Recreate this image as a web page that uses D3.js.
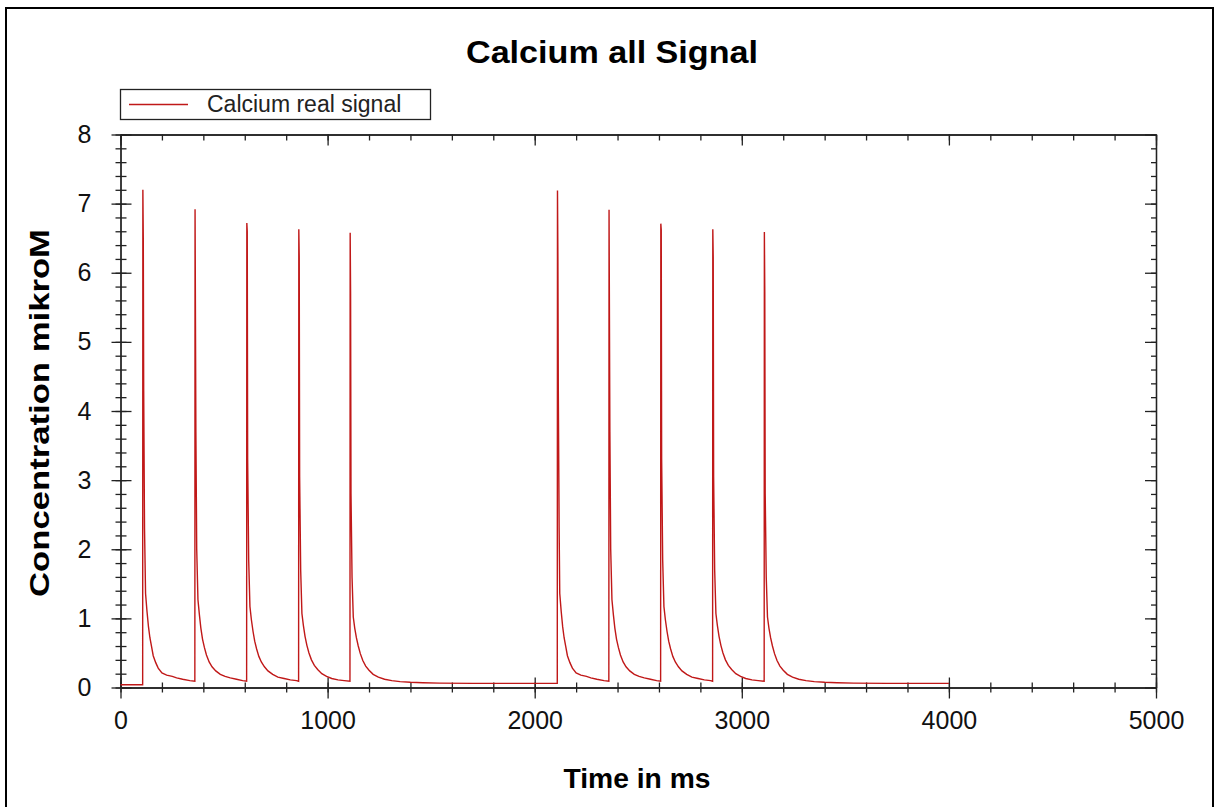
<!DOCTYPE html>
<html>
<head>
<meta charset="utf-8">
<script src="https://cdn.jsdelivr.net/npm/d3@7"></script>
<style>
  body { margin: 0; background: #fff; }
  svg text { font-family: "Liberation Sans", Arial, sans-serif; }
</style>
</head>
<body>
<div id="chart"></div>
<script>
// signal samples (time in ms, concentration in mikroM)
var timeMs = [
  0, 107, 108, 110, 112, 116, 121, 128, 135, 142, 150, 158, 170, 182, 200, 223, 250, 271, 300, 335, 359,
  360, 364, 368, 374, 381, 388, 396, 405, 415, 428, 442, 460, 482, 505, 530, 560, 590, 609,
  610, 612, 614, 619, 625, 632, 640, 648, 657, 668, 680, 695, 712, 735, 760, 790, 820, 850, 860,
  861, 863, 865, 870, 876, 883, 891, 900, 910, 922, 936, 952, 972, 995, 1020, 1050, 1080, 1108,
  1109, 1111, 1113, 1118, 1124, 1131, 1139, 1148, 1158, 1170, 1184, 1200, 1220, 1245, 1275, 1310, 1350, 1400, 1460, 1540, 1700, 2109,
  2110, 2112, 2114, 2118, 2121, 2128, 2135, 2142, 2150, 2158, 2170, 2182, 2200, 2223, 2250, 2271, 2300, 2335, 2358,
  2359, 2363, 2367, 2373, 2380, 2387, 2395, 2404, 2414, 2427, 2441, 2459, 2481, 2504, 2529, 2559, 2589, 2608,
  2609, 2611, 2613, 2618, 2624, 2631, 2639, 2647, 2656, 2667, 2679, 2694, 2711, 2734, 2759, 2789, 2819, 2849, 2859,
  2860, 2862, 2864, 2869, 2875, 2882, 2890, 2899, 2909, 2921, 2935, 2951, 2971, 2994, 3019, 3049, 3079, 3108,
  3109, 3111, 3113, 3118, 3124, 3131, 3139, 3148, 3158, 3170, 3184, 3200, 3220, 3245, 3275, 3310, 3350, 3400, 3460, 3540, 3700, 4000
];
var calcium = [
  0.04, 0.04, 7.2, 6.5, 4.3, 2.3, 1.36, 1.1, 0.88, 0.72, 0.59, 0.46, 0.36, 0.28, 0.21, 0.18, 0.16, 0.14, 0.12, 0.10, 0.09,
  6.92, 3.7, 2.0, 1.27, 1.05, 0.86, 0.7, 0.58, 0.47, 0.37, 0.3, 0.24, 0.19, 0.16, 0.14, 0.12, 0.10, 0.09,
  6.72, 6.6, 3.3, 1.84, 1.17, 0.98, 0.81, 0.67, 0.56, 0.45, 0.37, 0.3, 0.24, 0.19, 0.15, 0.13, 0.11, 0.10, 0.09,
  6.63, 6.22, 3.05, 1.7, 1.07, 0.9, 0.74, 0.61, 0.5, 0.4, 0.32, 0.26, 0.2, 0.16, 0.13, 0.11, 0.10, 0.09,
  6.58, 5.7, 2.8, 1.6, 1.02, 0.86, 0.72, 0.6, 0.49, 0.39, 0.31, 0.25, 0.19, 0.15, 0.12, 0.10, 0.085, 0.075, 0.068, 0.063, 0.06, 0.06,
  7.19, 6.23, 4.3, 2.3, 1.36, 1.1, 0.88, 0.72, 0.59, 0.46, 0.36, 0.28, 0.21, 0.18, 0.16, 0.14, 0.12, 0.10, 0.09,
  6.91, 3.7, 2.0, 1.27, 1.05, 0.86, 0.7, 0.58, 0.47, 0.37, 0.3, 0.24, 0.19, 0.16, 0.14, 0.12, 0.10, 0.09,
  6.71, 6.62, 3.3, 1.84, 1.17, 0.98, 0.81, 0.67, 0.56, 0.45, 0.37, 0.3, 0.24, 0.19, 0.15, 0.13, 0.11, 0.10, 0.09,
  6.63, 6.22, 3.05, 1.7, 1.07, 0.9, 0.74, 0.61, 0.5, 0.4, 0.32, 0.26, 0.2, 0.16, 0.13, 0.11, 0.10, 0.09,
  6.59, 5.73, 2.8, 1.6, 1.02, 0.86, 0.72, 0.6, 0.49, 0.39, 0.31, 0.25, 0.19, 0.15, 0.12, 0.10, 0.085, 0.075, 0.068, 0.063, 0.06, 0.06
];
var xTicks = [0, 1000, 2000, 3000, 4000, 5000];
var yTicks = [0, 1, 2, 3, 4, 5, 6, 7, 8];
var xMinor = d3.range(0, 5001, 200);
var yMinor = d3.range(0, 8.01, 0.2);

var W = 1220, H = 807;
var plot = { left: 120.5, right: 1156, top: 134.5, bottom: 687.5 };

var svg = d3.select("#chart").append("svg")
  .attr("width", W).attr("height", H);

// outer frame
svg.append("rect")
  .attr("x", 6).attr("y", 8).attr("width", 1207).attr("height", 806)
  .attr("fill", "none").attr("stroke", "#000").attr("stroke-width", 2);

var x = d3.scaleLinear().domain([0, 5000]).range([plot.left, plot.right]);
var y = d3.scaleLinear().domain([0, 8]).range([plot.bottom, plot.top]);

// axes: minor and major ticks drawn separately, tick lines stretched so they cross the spine
function styleAxis(g) {
  g.select(".domain").attr("stroke", "#222").attr("stroke-width", 1.3);
  g.selectAll(".tick line").attr("stroke", "#222").attr("stroke-width", 1.3);
  g.selectAll("text").attr("font-size", 25).attr("fill", "#111")
    .attr("font-family", "'Liberation Sans', Arial, sans-serif");
}

// bottom
var gBm = svg.append("g").attr("transform", "translate(0," + plot.bottom + ")")
  .call(d3.axisBottom(x).tickValues(xMinor).tickFormat("").tickSizeOuter(0));
gBm.selectAll(".tick line").attr("y1", -5).attr("y2", 5);
styleAxis(gBm);
var gB = svg.append("g").attr("transform", "translate(0," + plot.bottom + ")")
  .call(d3.axisBottom(x).tickValues(xTicks).tickFormat(d3.format("d")).tickSizeOuter(0).tickPadding(18));
gB.selectAll(".tick line").attr("y1", -10).attr("y2", 11);
styleAxis(gB);

// top
var gTm = svg.append("g").attr("transform", "translate(0," + plot.top + ")")
  .call(d3.axisTop(x).tickValues(xMinor).tickFormat("").tickSizeOuter(0));
gTm.selectAll(".tick line").attr("y1", 0).attr("y2", 6);
styleAxis(gTm);
var gT = svg.append("g").attr("transform", "translate(0," + plot.top + ")")
  .call(d3.axisTop(x).tickValues(xTicks).tickFormat("").tickSizeOuter(0));
gT.selectAll(".tick line").attr("y1", 0).attr("y2", 11);
styleAxis(gT);

// left
var gLm = svg.append("g").attr("transform", "translate(" + plot.left + ",0)")
  .call(d3.axisLeft(y).tickValues(yMinor).tickFormat("").tickSizeOuter(0));
gLm.selectAll(".tick line").attr("x1", -5).attr("x2", 6);
styleAxis(gLm);
var gL = svg.append("g").attr("transform", "translate(" + plot.left + ",0)")
  .call(d3.axisLeft(y).tickValues(yTicks).tickFormat(d3.format("d")).tickSizeOuter(0).tickPadding(23));
gL.selectAll(".tick line").attr("x1", -9).attr("x2", 11);
styleAxis(gL);

// right
var gRm = svg.append("g").attr("transform", "translate(" + plot.right + ",0)")
  .call(d3.axisRight(y).tickValues(yMinor).tickFormat("").tickSizeOuter(0));
gRm.selectAll(".tick line").attr("x1", -5).attr("x2", 0);
styleAxis(gRm);
var gR = svg.append("g").attr("transform", "translate(" + plot.right + ",0)")
  .call(d3.axisRight(y).tickValues(yTicks).tickFormat("").tickSizeOuter(0));
gR.selectAll(".tick line").attr("x1", -11).attr("x2", 0);
styleAxis(gR);

// signal line
var pts = timeMs.map(function (t, i) { return [t, calcium[i]]; });
var line = d3.line().x(function (d) { return x(d[0]); }).y(function (d) { return y(d[1]); });
svg.append("path").datum(pts)
  .attr("d", line)
  .attr("fill", "none")
  .attr("stroke", "#c01818")
  .attr("stroke-width", 1.4)
  .attr("stroke-linejoin", "miter");

// title
svg.append("text")
  .attr("x", 612).attr("y", 63)
  .attr("text-anchor", "middle")
  .attr("font-size", 31).attr("font-weight", "bold")
  .attr("textLength", 292).attr("lengthAdjust", "spacingAndGlyphs")
  .text("Calcium all Signal");

// axis titles
svg.append("text")
  .attr("x", 637).attr("y", 788)
  .attr("text-anchor", "middle")
  .attr("font-size", 28).attr("font-weight", "bold")
  .attr("textLength", 147).attr("lengthAdjust", "spacingAndGlyphs")
  .text("Time in ms");

svg.append("text")
  .attr("transform", "translate(49,413) rotate(-90)")
  .attr("text-anchor", "middle")
  .attr("font-size", 27).attr("font-weight", "bold")
  .attr("textLength", 368).attr("lengthAdjust", "spacingAndGlyphs")
  .text("Concentration mikroM");

// legend
var leg = svg.append("g");
leg.append("rect")
  .attr("x", 120.5).attr("y", 89.5).attr("width", 310).attr("height", 30)
  .attr("fill", "#fff").attr("stroke", "#222").attr("stroke-width", 1.3);
leg.append("line")
  .attr("x1", 129).attr("x2", 188).attr("y1", 104.5).attr("y2", 104.5)
  .attr("stroke", "#c01818").attr("stroke-width", 1.3);
leg.append("text")
  .attr("x", 207).attr("y", 112)
  .attr("font-size", 23).attr("fill", "#222")
  .text("Calcium real signal");
</script>
</body>
</html>
